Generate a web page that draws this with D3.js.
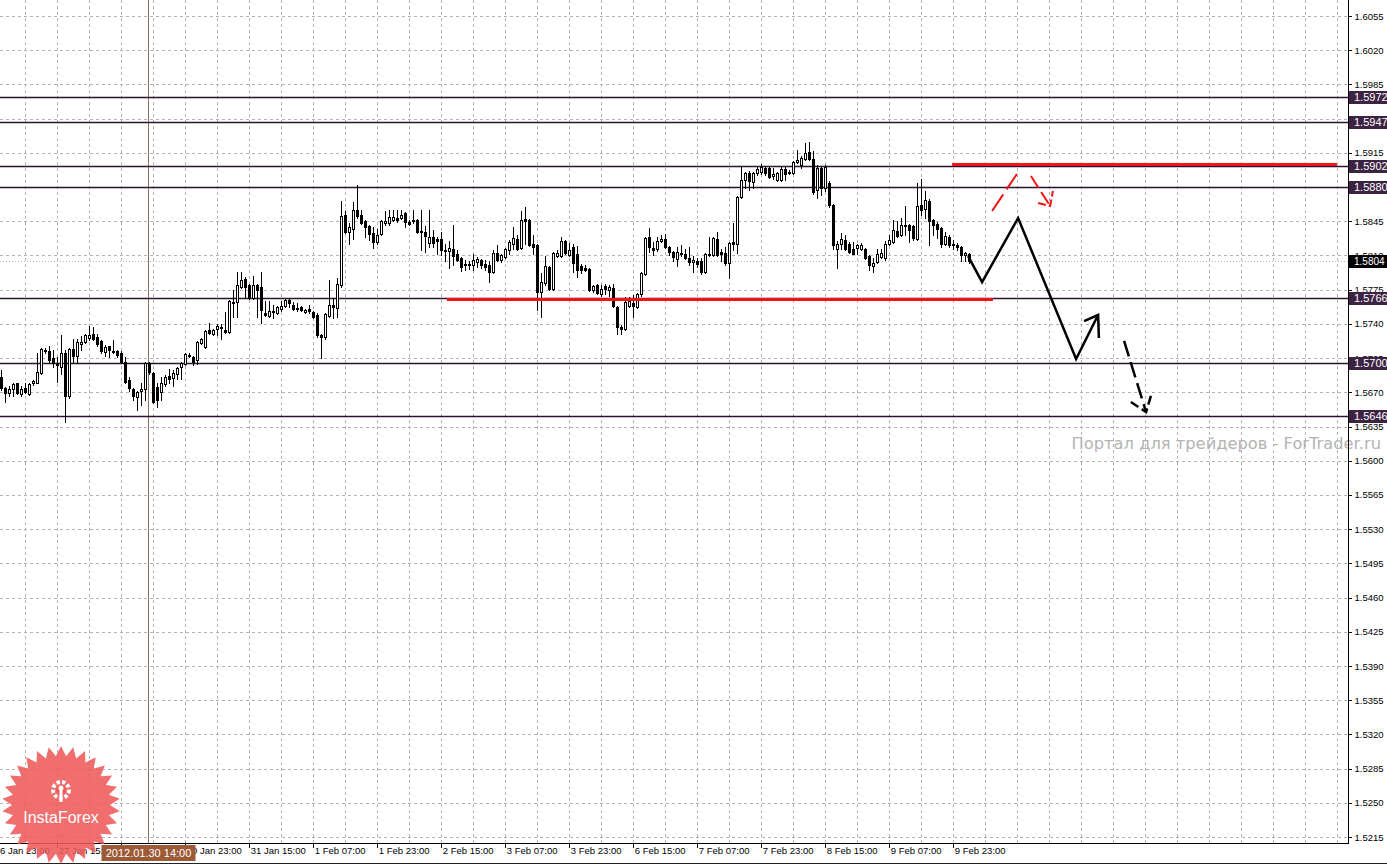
<!DOCTYPE html>
<html>
<head>
<meta charset="utf-8">
<title>GBPUSD H1</title>
<style>
body { margin: 0; background: #fff; }
svg { display: block; font-family: "Liberation Sans", Arial, sans-serif; }
.grid line { stroke: #b8b2b8; stroke-dasharray: 3,3; shape-rendering: crispEdges; }
.axis text { fill: #000; }
.axis line { stroke: #000; shape-rendering: crispEdges; }
</style>
</head>
<body>
<svg width="1387" height="865"></svg>
<script src="https://d3js.org/d3.v7.min.js"></script>
<script>
// hourly bars, 27 Jan 01:00 .. 9 Feb 2012
var opens = [1.5686,1.5674,1.5669,1.5673,1.5679,1.5668,1.5674,1.5668,1.5679,1.5680,
 1.5690,1.5713,1.5712,1.5705,1.5700,1.5696,1.5710,1.5666,1.5714,1.5707,
 1.5719,1.5721,1.5726,1.5730,1.5727,1.5722,1.5711,1.5717,1.5712,1.5712,
 1.5710,1.5701,1.5683,1.5673,1.5665,1.5671,1.5673,1.5700,1.5690,1.5675,
 1.5670,1.5678,1.5687,1.5685,1.5689,1.5696,1.5699,1.5707,1.5706,1.5703,
 1.5720,1.5716,1.5734,1.5730,1.5735,1.5736,1.5734,1.5732,1.5761,1.5762,
 1.5778,1.5786,1.5780,1.5766,1.5780,1.5778,1.5751,1.5748,1.5752,1.5751,
 1.5755,1.5758,1.5764,1.5759,1.5756,1.5757,1.5752,1.5755,1.5752,1.5749,
 1.5729,1.5727,1.5748,1.5759,1.5756,1.5780,1.5851,1.5834,1.5837,1.5857,
 1.5851,1.5845,1.5840,1.5833,1.5824,1.5832,1.5843,1.5843,1.5846,1.5848,
 1.5848,1.5853,1.5844,1.5845,1.5846,1.5835,1.5834,1.5823,1.5829,1.5827,
 1.5827,1.5816,1.5815,1.5817,1.5811,1.5807,1.5801,1.5801,1.5800,1.5803,
 1.5805,1.5801,1.5800,1.5793,1.5813,1.5805,1.5808,1.5816,1.5822,1.5827,
 1.5818,1.5847,1.5846,1.5822,1.5821,1.5773,1.5782,1.5798,1.5776,1.5809,
 1.5809,1.5825,1.5810,1.5819,1.5812,1.5799,1.5797,1.5796,1.5775,1.5780,
 1.5771,1.5779,1.5775,1.5777,1.5757,1.5737,1.5735,1.5758,1.5761,1.5757,
 1.5771,1.5791,1.5829,1.5818,1.5817,1.5825,1.5827,1.5819,1.5814,1.5806,
 1.5811,1.5812,1.5807,1.5803,1.5804,1.5804,1.5793,1.5810,1.5810,1.5827,
 1.5814,1.5813,1.5802,1.5824,1.5822,1.5870,1.5887,1.5894,1.5885,1.5894,
 1.5895,1.5899,1.5899,1.5891,1.5887,1.5887,1.5898,1.5894,1.5894,1.5906,
 1.5903,1.5909,1.5916,1.5909,1.5877,1.5899,1.5879,1.5884,1.5862,1.5817,
 1.5822,1.5826,1.5822,1.5817,1.5818,1.5817,1.5817,1.5809,1.5799,1.5803,
 1.5808,1.5807,1.5822,1.5824,1.5835,1.5831,1.5840,1.5841,1.5840,1.5827,
 1.5862,1.5858,1.5866,1.5846,1.5842,1.5838,1.5822,1.5829,1.5822,1.5821,
 1.5819,1.5810,1.5812];
var highs = [1.5693,1.5675,1.5676,1.5679,1.5680,1.5676,1.5679,1.5679,1.5683,1.5710,
 1.5715,1.5715,1.5717,1.5713,1.5706,1.5729,1.5713,1.5715,1.5725,1.5725,
 1.5728,1.5730,1.5738,1.5737,1.5730,1.5724,1.5718,1.5717,1.5724,1.5713,
 1.5712,1.5706,1.5686,1.5674,1.5671,1.5679,1.5701,1.5701,1.5691,1.5680,
 1.5686,1.5688,1.5694,1.5693,1.5696,1.5701,1.5710,1.5710,1.5707,1.5722,
 1.5726,1.5734,1.5741,1.5735,1.5740,1.5740,1.5752,1.5764,1.5775,1.5793,
 1.5793,1.5788,1.5781,1.5789,1.5781,1.5793,1.5763,1.5763,1.5759,1.5758,
 1.5763,1.5765,1.5765,1.5762,1.5761,1.5758,1.5755,1.5759,1.5753,1.5751,
 1.5730,1.5751,1.5785,1.5766,1.5787,1.5866,1.5855,1.5843,1.5865,1.5882,
 1.5857,1.5846,1.5841,1.5839,1.5837,1.5846,1.5855,1.5856,1.5857,1.5857,
 1.5857,1.5854,1.5846,1.5856,1.5847,1.5857,1.5840,1.5857,1.5836,1.5829,
 1.5834,1.5822,1.5825,1.5841,1.5816,1.5808,1.5805,1.5804,1.5812,1.5808,
 1.5806,1.5805,1.5804,1.5816,1.5821,1.5811,1.5818,1.5826,1.5839,1.5831,
 1.5855,1.5860,1.5847,1.5831,1.5822,1.5792,1.5809,1.5799,1.5814,1.5816,
 1.5829,1.5826,1.5823,1.5822,1.5820,1.5801,1.5800,1.5797,1.5780,1.5781,
 1.5780,1.5781,1.5780,1.5781,1.5758,1.5739,1.5768,1.5767,1.5770,1.5772,
 1.5793,1.5829,1.5838,1.5824,1.5829,1.5831,1.5832,1.5820,1.5815,1.5819,
 1.5821,1.5817,1.5819,1.5809,1.5807,1.5807,1.5813,1.5829,1.5829,1.5834,
 1.5817,1.5819,1.5824,1.5843,1.5871,1.5902,1.5895,1.5896,1.5895,1.5900,
 1.5904,1.5901,1.5901,1.5899,1.5895,1.5901,1.5901,1.5897,1.5907,1.5918,
 1.5912,1.5925,1.5926,1.5917,1.5903,1.5902,1.5903,1.5886,1.5863,1.5825,
 1.5833,1.5831,1.5824,1.5824,1.5822,1.5823,1.5818,1.5810,1.5807,1.5817,
 1.5817,1.5825,1.5831,1.5846,1.5845,1.5848,1.5861,1.5842,1.5841,1.5884,
 1.5888,1.5876,1.5868,1.5847,1.5844,1.5839,1.5834,1.5831,1.5826,1.5823,
 1.5820,1.5814,1.5813];
var lows = [1.5672,1.5660,1.5666,1.5666,1.5668,1.5666,1.5669,1.5667,1.5677,1.5679,
 1.5689,1.5710,1.5701,1.5696,1.5681,1.5689,1.5640,1.5664,1.5701,1.5700,
 1.5713,1.5720,1.5724,1.5724,1.5717,1.5710,1.5707,1.5706,1.5710,1.5706,
 1.5700,1.5679,1.5671,1.5662,1.5652,1.5657,1.5662,1.5689,1.5659,1.5655,
 1.5662,1.5676,1.5679,1.5676,1.5684,1.5684,1.5698,1.5706,1.5698,1.5699,
 1.5719,1.5715,1.5730,1.5729,1.5729,1.5725,1.5731,1.5731,1.5747,1.5747,
 1.5777,1.5766,1.5765,1.5765,1.5747,1.5741,1.5748,1.5747,1.5746,1.5750,
 1.5753,1.5757,1.5757,1.5754,1.5753,1.5753,1.5751,1.5751,1.5746,1.5727,
 1.5705,1.5725,1.5747,1.5746,1.5747,1.5778,1.5833,1.5822,1.5827,1.5848,
 1.5842,1.5829,1.5826,1.5818,1.5822,1.5831,1.5841,1.5841,1.5845,1.5844,
 1.5847,1.5839,1.5841,1.5843,1.5833,1.5816,1.5814,1.5819,1.5819,1.5812,
 1.5810,1.5804,1.5797,1.5800,1.5804,1.5794,1.5795,1.5796,1.5795,1.5798,
 1.5797,1.5795,1.5783,1.5792,1.5804,1.5803,1.5807,1.5812,1.5817,1.5816,
 1.5817,1.5822,1.5820,1.5812,1.5754,1.5747,1.5780,1.5775,1.5775,1.5808,
 1.5808,1.5812,1.5809,1.5793,1.5788,1.5792,1.5794,1.5774,1.5773,1.5771,
 1.5769,1.5771,1.5769,1.5757,1.5730,1.5730,1.5734,1.5757,1.5747,1.5756,
 1.5769,1.5790,1.5814,1.5810,1.5815,1.5824,1.5818,1.5810,1.5804,1.5799,
 1.5809,1.5806,1.5800,1.5793,1.5798,1.5791,1.5792,1.5809,1.5809,1.5809,
 1.5804,1.5800,1.5787,1.5816,1.5813,1.5869,1.5879,1.5877,1.5879,1.5892,
 1.5893,1.5892,1.5889,1.5888,1.5886,1.5886,1.5887,1.5893,1.5893,1.5905,
 1.5899,1.5908,1.5908,1.5873,1.5869,1.5872,1.5876,1.5860,1.5817,1.5797,
 1.5817,1.5816,1.5813,1.5811,1.5811,1.5816,1.5806,1.5795,1.5793,1.5802,
 1.5807,1.5805,1.5821,1.5823,1.5829,1.5830,1.5831,1.5824,1.5826,1.5826,
 1.5851,1.5848,1.5821,1.5831,1.5828,1.5819,1.5821,1.5819,1.5817,1.5816,
 1.5804,1.5804,1.5802];
var closes = [1.5674,1.5669,1.5673,1.5678,1.5669,1.5673,1.5670,1.5678,1.5682,1.5691,
 1.5714,1.5712,1.5703,1.5700,1.5698,1.5710,1.5666,1.5714,1.5707,1.5721,
 1.5721,1.5729,1.5729,1.5725,1.5719,1.5712,1.5716,1.5713,1.5711,1.5708,
 1.5701,1.5681,1.5674,1.5666,1.5670,1.5673,1.5700,1.5691,1.5660,1.5662,
 1.5679,1.5686,1.5684,1.5690,1.5695,1.5700,1.5709,1.5708,1.5701,1.5721,
 1.5725,1.5733,1.5731,1.5734,1.5738,1.5737,1.5732,1.5763,1.5762,1.5780,
 1.5785,1.5778,1.5766,1.5780,1.5775,1.5754,1.5749,1.5753,1.5753,1.5757,
 1.5758,1.5764,1.5761,1.5755,1.5755,1.5754,1.5754,1.5753,1.5747,1.5729,
 1.5727,1.5750,1.5759,1.5757,1.5781,1.5850,1.5834,1.5839,1.5857,1.5850,
 1.5843,1.5839,1.5832,1.5824,1.5831,1.5845,1.5845,1.5849,1.5849,1.5846,
 1.5851,1.5844,1.5842,1.5846,1.5834,1.5834,1.5830,1.5829,1.5823,1.5825,
 1.5816,1.5815,1.5818,1.5809,1.5805,1.5798,1.5800,1.5800,1.5805,1.5806,
 1.5800,1.5798,1.5793,1.5813,1.5805,1.5810,1.5817,1.5824,1.5828,1.5817,
 1.5846,1.5845,1.5821,1.5819,1.5773,1.5783,1.5799,1.5776,1.5813,1.5813,
 1.5825,1.5813,1.5816,1.5802,1.5795,1.5795,1.5795,1.5775,1.5779,1.5772,
 1.5776,1.5776,1.5778,1.5758,1.5737,1.5735,1.5762,1.5763,1.5758,1.5771,
 1.5792,1.5828,1.5819,1.5816,1.5825,1.5827,1.5819,1.5814,1.5808,1.5814,
 1.5813,1.5807,1.5803,1.5805,1.5801,1.5793,1.5812,1.5811,1.5828,1.5810,
 1.5811,1.5802,1.5823,1.5822,1.5870,1.5887,1.5894,1.5886,1.5894,1.5898,
 1.5900,1.5894,1.5890,1.5893,1.5894,1.5898,1.5893,1.5895,1.5906,1.5908,
 1.5910,1.5915,1.5909,1.5875,1.5899,1.5879,1.5901,1.5862,1.5821,1.5822,
 1.5827,1.5817,1.5814,1.5812,1.5821,1.5821,1.5807,1.5800,1.5802,1.5812,
 1.5813,1.5822,1.5826,1.5836,1.5830,1.5841,1.5841,1.5836,1.5828,1.5861,
 1.5856,1.5867,1.5845,1.5841,1.5837,1.5822,1.5830,1.5821,1.5821,1.5819,
 1.5810,1.5813,1.5804];

var priceTicks = [1.6055,1.6020,1.5985,1.5950,1.5915,1.5880,1.5845,1.5810,1.5775,1.5740,
 1.5705,1.5670,1.5635,1.5600,1.5565,1.5530,1.5495,1.5460,1.5425,1.5390,
 1.5355,1.5320,1.5285,1.5250,1.5215];
var timeTickBars = [-2,14,30,46,62,78,94,110,126,142,158,174,190,206,222,238];
var timeTickLabels = ["26 Jan 23:00","27 Jan 15:00","30 Jan 07:00","30 Jan 23:00","31 Jan 15:00",
 "1 Feb 07:00","1 Feb 23:00","2 Feb 15:00","3 Feb 07:00","3 Feb 23:00","6 Feb 15:00",
 "7 Feb 07:00","7 Feb 23:00","8 Feb 15:00","9 Feb 07:00","9 Feb 23:00"];

// horizontal levels drawn by the analyst
var levelPrices = [1.5972, 1.5947, 1.5902, 1.5880, 1.5766, 1.5700, 1.5646];
var lastPrice = 1.5804;
var crossBar = 37, crossLabel = "2012.01.30 14:00";

// red support / resistance segments: [fromBar, toBar, price]
var redSegments = [[111.4, 247.9, 1.5765], [237.7, 333.9, 1.5903]];

// forecast paths as [bar, price]
var blackPath = [[241.7, 1.58094], [245.2, 1.57828], [254.2, 1.58483], [268.7, 1.57041], [274.2, 1.57491]];
var blackHead = [[270.7, 1.57429], [274.2, 1.57491], [274.4, 1.57256]];
var blackDash = [[280.7, 1.57225], [286.2, 1.56498]];
var blackDashHead = [[282.4, 1.56601], [286.2, 1.56498], [287.7, 1.56703]];
var redUp = [[247.7, 1.58555], [253.9, 1.58933]];
var redDown = [[257.4, 1.58913], [262.2, 1.58606]];
var redDownHead = [[259.2, 1.58637], [262.2, 1.58606], [262.9, 1.58760]];

var W = 1387, H = 865, plotR = 1348, plotB = 843;

var svg = d3.select("svg");
var x = d3.scaleLinear().domain([0, 333]).range([1.3, 1333.3]);
var y = d3.scaleLinear().domain([1.5215, 1.6055]).range([837, 16]);
var crisp = function(v) { return Math.round(v) + 0.5; };

svg.append("rect").attr("width", W).attr("height", H).attr("fill", "#fff");
svg.append("defs").append("clipPath").attr("id", "plotclip")
  .append("rect").attr("width", plotR).attr("height", plotB);

var plot = svg.append("g").attr("clip-path", "url(#plotclip)");

// grid
var grid = plot.append("g").attr("class", "grid");
grid.selectAll("line.h").data(priceTicks).enter().append("line")
  .attr("class", "h")
  .attr("x1", 0).attr("x2", plotR)
  .attr("y1", function(d) { return crisp(y(d)); })
  .attr("y2", function(d) { return crisp(y(d)); });
grid.selectAll("line.v").data(d3.range(6, 335, 8)).enter().append("line")
  .attr("class", "v")
  .attr("y1", 0).attr("y2", plotB)
  .attr("x1", function(d) { return crisp(x(d)); })
  .attr("x2", function(d) { return crisp(x(d)); });

// bid line
plot.append("line")
  .attr("x1", 0).attr("x2", plotR)
  .attr("y1", crisp(y(lastPrice))).attr("y2", crisp(y(lastPrice)))
  .attr("stroke", "#a9b8a9").attr("stroke-dasharray", "1,2")
  .attr("shape-rendering", "crispEdges");

// crosshair
plot.append("line")
  .attr("x1", crisp(x(crossBar)) - 1).attr("x2", crisp(x(crossBar)) - 1)
  .attr("y1", 0).attr("y2", plotB)
  .attr("stroke", "#8c7060").attr("shape-rendering", "crispEdges");

// levels
plot.selectAll("line.level").data(levelPrices).enter().append("line")
  .attr("class", "level")
  .attr("x1", 0).attr("x2", plotR)
  .attr("y1", function(d) { return crisp(y(d)); })
  .attr("y2", function(d) { return crisp(y(d)); })
  .attr("stroke", "#2e1231").attr("stroke-width", 1.3);

// candles
var bars = opens.map(function(o, i) {
  return { i: i, o: o, c: closes[i], h: Math.max(highs[i], o, closes[i]), l: Math.min(lows[i], o, closes[i]) };
});
var candle = plot.append("g").selectAll("g").data(bars).enter().append("g")
  .attr("shape-rendering", "crispEdges");
candle.append("rect")
  .attr("x", function(d) { return Math.round(x(d.i)); })
  .attr("width", 1)
  .attr("y", function(d) { return Math.round(y(d.h)); })
  .attr("height", function(d) { return Math.round(y(d.l)) - Math.round(y(d.h)) + 1; })
  .attr("fill", "#000");
candle.append("rect")
  .attr("x", function(d) { return Math.round(x(d.i)) - 1; })
  .attr("width", 3)
  .attr("y", function(d) { return Math.round(y(Math.max(d.o, d.c))); })
  .attr("height", function(d) { return Math.max(1, Math.round(y(Math.min(d.o, d.c))) - Math.round(y(Math.max(d.o, d.c))) + 1); })
  .attr("fill", "#000");
candle.filter(function(d) { return d.c > d.o && Math.round(y(d.o)) - Math.round(y(d.c)) > 1; })
  .append("rect")
  .attr("x", function(d) { return Math.round(x(d.i)); })
  .attr("width", 1)
  .attr("y", function(d) { return Math.round(y(d.c)) + 1; })
  .attr("height", function(d) { return Math.round(y(d.o)) - Math.round(y(d.c)) - 1; })
  .attr("fill", "#fff");

// red horizontal segments
plot.selectAll("line.red").data(redSegments).enter().append("line")
  .attr("x1", function(d) { return x(d[0]); })
  .attr("x2", function(d) { return x(d[1]); })
  .attr("y1", function(d) { return y(d[2]); })
  .attr("y2", function(d) { return y(d[2]); })
  .attr("stroke", "#f01414").attr("stroke-width", 3);

// forecast arrows
var line = d3.line().x(function(d) { return x(d[0]); }).y(function(d) { return y(d[1]); });
function path(pts, color, w, dash) {
  plot.append("path").attr("d", line(pts))
    .attr("fill", "none").attr("stroke", color).attr("stroke-width", w)
    .attr("stroke-dasharray", dash || null)
    .attr("stroke-linejoin", "miter");
}
path(blackPath, "#000", 2.5);
path(blackHead, "#000", 2.5);
path(blackDash, "#000", 2.5, "16,6");
path(blackDashHead, "#000", 2.5, "9,4");
path(redUp, "#f01414", 2, "20,6");
path(redDown, "#f01414", 2, "14,5");
path(redDownHead, "#f01414", 2, "8,3");

// watermark
svg.append("text").attr("x", 1381).attr("y", 449)
  .attr("text-anchor", "end").attr("fill", "#b3b3b3")
  .style("font-family", "'DejaVu Sans', sans-serif").style("font-size", "16.3px")
  .text("Портал для трейдеров - ForTrader.ru");

// axes frame
svg.append("line").attr("x1", crisp(plotR)).attr("x2", crisp(plotR)).attr("y1", 0).attr("y2", plotB + 1)
  .attr("stroke", "#000").attr("shape-rendering", "crispEdges");
svg.append("line").attr("x1", 0).attr("x2", plotR + 1).attr("y1", crisp(plotB)).attr("y2", crisp(plotB))
  .attr("stroke", "#000").attr("shape-rendering", "crispEdges");
svg.append("line").attr("x1", 0).attr("x2", W).attr("y1", 863.5).attr("y2", 863.5)
  .attr("stroke", "#222").attr("shape-rendering", "crispEdges");

var yAxis = svg.append("g").attr("class", "axis")
  .attr("transform", "translate(" + crisp(plotR) + ",0)")
  .call(d3.axisRight(y).tickValues(priceTicks).tickSize(3).tickPadding(3).tickFormat(d3.format(".4f")));
yAxis.select(".domain").remove();
yAxis.selectAll("text").style("font-size", "9.5px");

var xAxis = svg.append("g").attr("class", "axis")
  .attr("transform", "translate(0," + crisp(plotB) + ")")
  .call(d3.axisBottom(x).tickValues(timeTickBars).tickSize(4)
    .tickFormat(function(d, k) { return timeTickLabels[k]; }));
xAxis.select(".domain").remove();
xAxis.selectAll(".tick line").attr("transform", "translate(-0.5,0)");
xAxis.selectAll("text").attr("text-anchor", "start").attr("x", 1).attr("y", 4).attr("dy", "0.71em")
  .style("font-size", "9.5px");

// price labels for levels
var lab = svg.append("g");
var labData = levelPrices.map(function(p) { return { p: p, bg: "#3d2342", fs: 11 }; })
  .concat([{ p: lastPrice, bg: "#000", fs: 10 }]);
var lg = lab.selectAll("g").data(labData).enter().append("g")
  .attr("transform", function(d) { return "translate(" + (plotR + 1) + "," + Math.round(y(d.p)) + ")"; });
lg.append("rect").attr("x", 0).attr("y", -6).attr("width", W - plotR).attr("height", 13)
  .attr("fill", function(d) { return d.bg; });
lg.append("text").attr("x", 5).attr("y", 0.5).attr("dy", "0.35em")
  .attr("fill", "#fff").style("font-size", function(d) { return d.fs + "px"; })
  .text(function(d) { return d3.format(".4f")(d.p); });

// crosshair time label
var cx = crisp(x(crossBar)) - 1;
svg.append("rect").attr("x", cx - 47).attr("y", plotB + 2).attr("width", 94).attr("height", 16)
  .attr("fill", "#9c5a37");
svg.append("text").attr("x", cx).attr("y", plotB + 14).attr("text-anchor", "middle")
  .attr("fill", "#fff").style("font-size", "11px").text(crossLabel);

// InstaForex badge
var badge = svg.append("g").attr("transform", "translate(61,805)");
var nPts = 30, rOut = 59, rIn = 49;
var star = d3.range(nPts * 2).map(function(k) {
  var a = Math.PI * k / nPts - Math.PI / 2, r = k % 2 ? rIn : rOut;
  return [Math.cos(a) * r, Math.sin(a) * r];
});
badge.append("path").attr("d", "M" + star.join("L") + "Z")
  .attr("fill", "#ee5a5a").attr("fill-opacity", 0.88);
badge.append("circle").attr("cy", -15).attr("r", 8)
  .attr("fill", "none").attr("stroke", "#fff").attr("stroke-width", 4)
  .attr("stroke-dasharray", "3.3,2.2");
badge.append("circle").attr("cy", -15).attr("r", 5).attr("fill", "#ee5a5a");
badge.append("circle").attr("cy", -17).attr("r", 2.5).attr("fill", "#fff");
badge.append("rect").attr("x", -1.5).attr("y", -15).attr("width", 3).attr("height", 12).attr("fill", "#fff");
badge.append("text").attr("y", 18).attr("text-anchor", "middle").attr("fill", "#fff")
  .style("font-size", "16px").text("InstaForex");
</script>
</body>
</html>
